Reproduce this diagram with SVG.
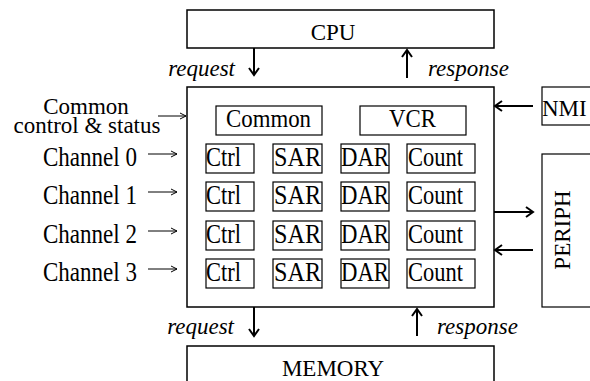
<svg xmlns="http://www.w3.org/2000/svg" width="590" height="381" viewBox="0 0 590 381">
<style>
text{font-family:"Liberation Serif","Times New Roman",serif;font-size:23px;fill:#000}
.it{font-style:italic}
.big{font-size:27px}
.mid{font-size:25px}
.box{fill:#fff;stroke:#000;stroke-width:1.5}
.reg{fill:#fff;stroke:#000;stroke-width:1.2}
.a{stroke:#000;stroke-width:2;fill:none}
.t{stroke:#000;stroke-width:1;fill:none}
</style>
<defs>
<marker id="h" markerUnits="userSpaceOnUse" markerWidth="14" markerHeight="14" refX="10" refY="6" orient="auto"><path d="M3,1 L10,6 L3,11" fill="none" stroke="#000" stroke-width="2"/></marker>
<marker id="s" markerUnits="userSpaceOnUse" markerWidth="12" markerHeight="10" refX="9" refY="5" orient="auto"><path d="M3,2 L9,5 L3,8" fill="none" stroke="#000" stroke-width="1"/></marker>
</defs>
<g id="cpu"><rect class="box" x="187" y="10" width="307" height="38"/><text x="333" y="40" text-anchor="middle">CPU</text></g>
<g id="dma"><rect class="box" x="187" y="87" width="307" height="220"/></g>
<g id="common"><rect class="reg" x="216" y="106" width="106" height="29"/><text class="mid" x="226" y="127" textLength="85" lengthAdjust="spacingAndGlyphs">Common</text></g>
<g id="vcr"><rect class="reg" x="360" y="106" width="106" height="29"/><text class="mid" x="389" y="127" textLength="47" lengthAdjust="spacingAndGlyphs">VCR</text></g>
<g id="ch0">
<rect class="reg" x="206" y="144" width="48" height="29"/><text class="big" x="206" y="166" textLength="35" lengthAdjust="spacingAndGlyphs">Ctrl</text>
<rect class="reg" x="273" y="144" width="49" height="29"/><text class="big" x="274" y="166" textLength="47" lengthAdjust="spacingAndGlyphs">SAR</text>
<rect class="reg" x="341" y="144" width="48" height="29"/><text class="big" x="341" y="166" textLength="48" lengthAdjust="spacingAndGlyphs">DAR</text>
<rect class="reg" x="407" y="144" width="68" height="29"/><text class="big" x="408" y="166" textLength="55" lengthAdjust="spacingAndGlyphs">Count</text>
</g>
<g id="ch1">
<rect class="reg" x="206" y="182" width="48" height="29"/><text class="big" x="206" y="204" textLength="35" lengthAdjust="spacingAndGlyphs">Ctrl</text>
<rect class="reg" x="273" y="182" width="49" height="29"/><text class="big" x="274" y="204" textLength="47" lengthAdjust="spacingAndGlyphs">SAR</text>
<rect class="reg" x="341" y="182" width="48" height="29"/><text class="big" x="341" y="204" textLength="48" lengthAdjust="spacingAndGlyphs">DAR</text>
<rect class="reg" x="407" y="182" width="68" height="29"/><text class="big" x="408" y="204" textLength="55" lengthAdjust="spacingAndGlyphs">Count</text>
</g>
<g id="ch2">
<rect class="reg" x="206" y="221" width="48" height="29"/><text class="big" x="206" y="243" textLength="35" lengthAdjust="spacingAndGlyphs">Ctrl</text>
<rect class="reg" x="273" y="221" width="49" height="29"/><text class="big" x="274" y="243" textLength="47" lengthAdjust="spacingAndGlyphs">SAR</text>
<rect class="reg" x="341" y="221" width="48" height="29"/><text class="big" x="341" y="243" textLength="48" lengthAdjust="spacingAndGlyphs">DAR</text>
<rect class="reg" x="407" y="221" width="68" height="29"/><text class="big" x="408" y="243" textLength="55" lengthAdjust="spacingAndGlyphs">Count</text>
</g>
<g id="ch3">
<rect class="reg" x="206" y="259" width="48" height="29"/><text class="big" x="206" y="281" textLength="35" lengthAdjust="spacingAndGlyphs">Ctrl</text>
<rect class="reg" x="273" y="259" width="49" height="29"/><text class="big" x="274" y="281" textLength="47" lengthAdjust="spacingAndGlyphs">SAR</text>
<rect class="reg" x="341" y="259" width="48" height="29"/><text class="big" x="341" y="281" textLength="48" lengthAdjust="spacingAndGlyphs">DAR</text>
<rect class="reg" x="407" y="259" width="68" height="29"/><text class="big" x="408" y="281" textLength="55" lengthAdjust="spacingAndGlyphs">Count</text>
</g>
<g id="nmi"><rect class="reg" x="542" y="87" width="60" height="38"/><text x="542" y="116">NMI</text></g>
<g id="periph"><rect class="reg" x="542" y="154" width="60" height="153"/><text transform="translate(570,230) rotate(-90)" text-anchor="middle">PERIPH</text></g>
<g id="memory"><rect class="box" x="187" y="346" width="307" height="50"/><text x="333" y="376" text-anchor="middle">MEMORY</text></g>
<g id="labels">
<text x="86" y="114" text-anchor="middle">Common</text>
<text x="87" y="133" text-anchor="middle">control &amp; status</text>
<text class="big" x="43" y="166" textLength="94" lengthAdjust="spacingAndGlyphs">Channel 0</text>
<text class="big" x="43" y="204" textLength="94" lengthAdjust="spacingAndGlyphs">Channel 1</text>
<text class="big" x="43" y="243" textLength="94" lengthAdjust="spacingAndGlyphs">Channel 2</text>
<text class="big" x="43" y="281" textLength="94" lengthAdjust="spacingAndGlyphs">Channel 3</text>
<text class="it" x="235" y="76" text-anchor="end">request</text>
<text class="it" x="428" y="76">response</text>
<text class="it" x="234" y="334" text-anchor="end">request</text>
<text class="it" x="437" y="334">response</text>
</g>
<g id="connectors">
<line class="a" x1="254" y1="48" x2="254" y2="75" marker-end="url(#h)"/>
<line class="a" x1="407" y1="78" x2="407" y2="50" marker-end="url(#h)"/>
<line class="a" x1="254" y1="307" x2="254" y2="336" marker-end="url(#h)"/>
<line class="a" x1="417" y1="336" x2="417" y2="309" marker-end="url(#h)"/>
<line class="a" x1="533" y1="106" x2="495" y2="106" marker-end="url(#h)"/>
<line class="a" x1="494" y1="212" x2="533" y2="212" marker-end="url(#h)"/>
<line class="a" x1="533" y1="250" x2="495" y2="250" marker-end="url(#h)"/>
<line class="t" x1="158" y1="116" x2="186" y2="116" marker-end="url(#s)"/>
<line class="t" x1="148" y1="154" x2="177" y2="154" marker-end="url(#s)"/>
<line class="t" x1="148" y1="192" x2="177" y2="192" marker-end="url(#s)"/>
<line class="t" x1="148" y1="231" x2="177" y2="231" marker-end="url(#s)"/>
<line class="t" x1="148" y1="269" x2="177" y2="269" marker-end="url(#s)"/>
</g>
</svg>
